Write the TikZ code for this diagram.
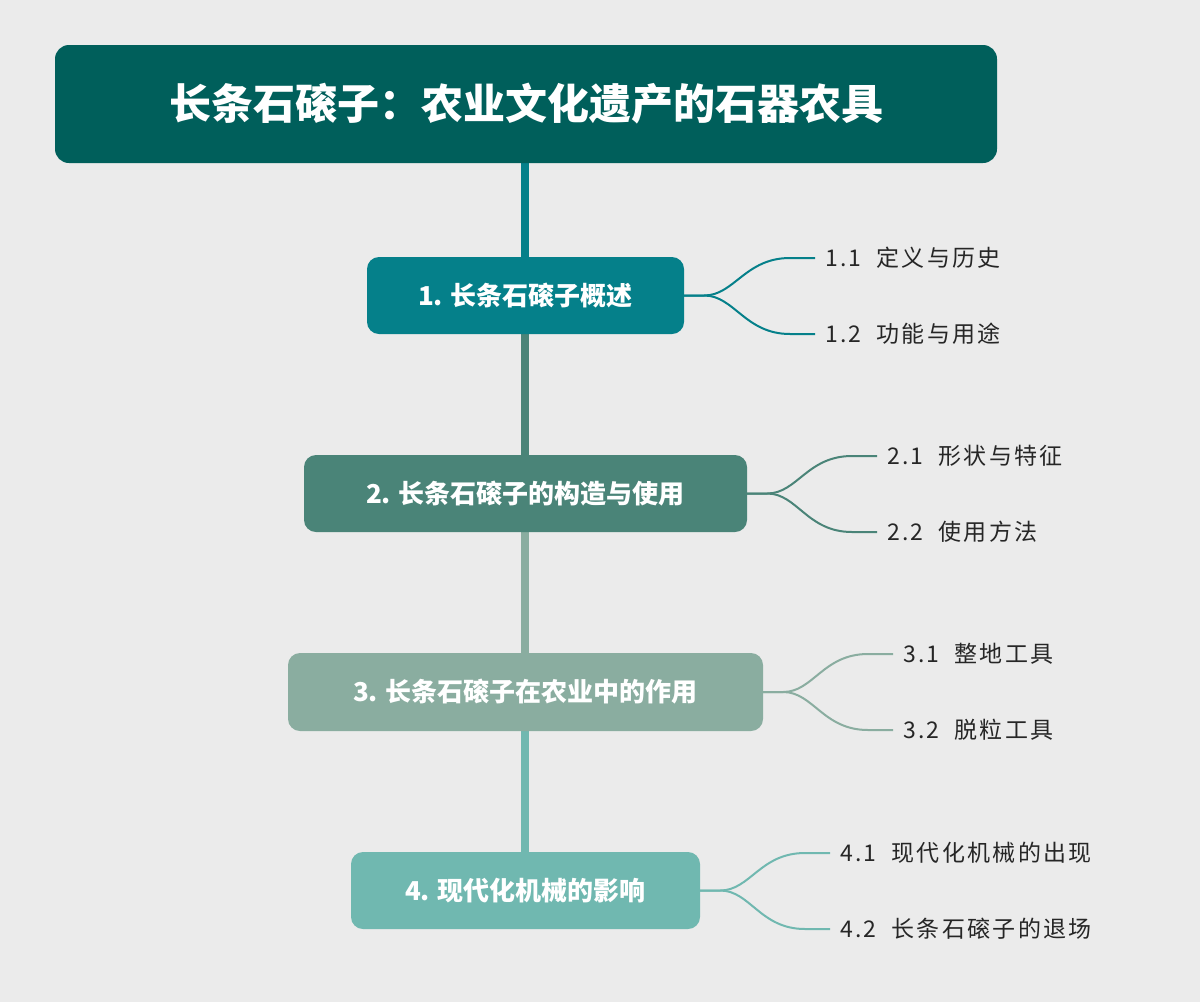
\documentclass[tikz,border=0pt]{standalone}
\usepackage{fontspec}
\usetikzlibrary{calc}
\setmainfont{Noto Sans CJK SC}
\begin{document}
\begin{tikzpicture}[x=1pt,y=-1pt,
  sec/.style={rounded corners=12pt,text=white,font=\bfseries\fontsize{26}{30}\selectfont,inner sep=0pt,anchor=center},
  leaf/.style={anchor=west,font=\fontsize{23}{28}\selectfont,text=black!85,inner sep=0pt},
  br/.style={line width=2pt}]
\definecolor{bg}{HTML}{EBEBEB}
\definecolor{ct}{HTML}{005F5B}
\definecolor{c1}{HTML}{05808A}
\definecolor{c2}{HTML}{4A8478}
\definecolor{c3}{HTML}{8AADA0}
\definecolor{c4}{HTML}{70B8B0}
\fill[bg] (0,0) rectangle (1200,1002);
\useasboundingbox (0,0) rectangle (1200,1002);
\draw[c1,line width=8pt] (525,160) -- (525,260);
\draw[c2,line width=8pt] (525,330) -- (525,460);
\draw[c3,line width=8pt] (525,530) -- (525,660);
\draw[c4,line width=8pt] (525,728) -- (525,856);
\node[fill=ct,rounded corners=14pt,minimum width=942pt,minimum height=118pt,text=white,font=\bfseries\fontsize{42}{48}\selectfont] (t) at (526,104) {长条石磙子：农业文化遗产的石器农具};
\node[sec,fill=c1,minimum width=317pt,minimum height=77pt] (n1) at (525.5,295.5) {1. 长条石磙子概述};
\node[sec,fill=c2,minimum width=443pt,minimum height=77pt] (n2) at (525.5,493.5) {2. 长条石磙子的构造与使用};
\node[sec,fill=c3,minimum width=475pt,minimum height=78pt] (n3) at (525.5,692) {3. 长条石磙子在农业中的作用};
\node[sec,fill=c4,minimum width=349pt,minimum height=77pt] (n4) at (525.5,890.5) {4. 现代化机械的影响};
\foreach \n/\c/\r/\e/\ya/\yb/\la/\lb in {
 n1/c1/684/815/258/334/{1.1\ \ 定义与历史}/{1.2\ \ 功能与用途},
 n2/c2/747/877/456/532/{2.1\ \ 形状与特征}/{2.2\ \ 使用方法},
 n3/c3/763/893/654/730/{3.1\ \ 整地工具}/{3.2\ \ 脱粒工具},
 n4/c4/700/830/853/929/{4.1\ \ 现代化机械的出现}/{4.2\ \ 长条石磙子的退场}}{
  \coordinate (s) at (\n.east);
  \coordinate (ea) at (\e,\ya);
  \coordinate (eb) at (\e,\yb);
  \draw[br,\c] (s) -- ++(20,0) .. controls +(30,0) and ($(ea)+(-70,0)$) .. ($(ea)+(-25,0)$) -- (ea);
  \draw[br,\c] (s) -- ++(20,0) .. controls +(30,0) and ($(eb)+(-70,0)$) .. ($(eb)+(-25,0)$) -- (eb);
  \node[leaf] at ($(ea)+(10,0)$) {\addfontfeature{LetterSpace=10}\la};
  \node[leaf] at ($(eb)+(10,0)$) {\addfontfeature{LetterSpace=10}\lb};
}
\end{tikzpicture}
\end{document}
